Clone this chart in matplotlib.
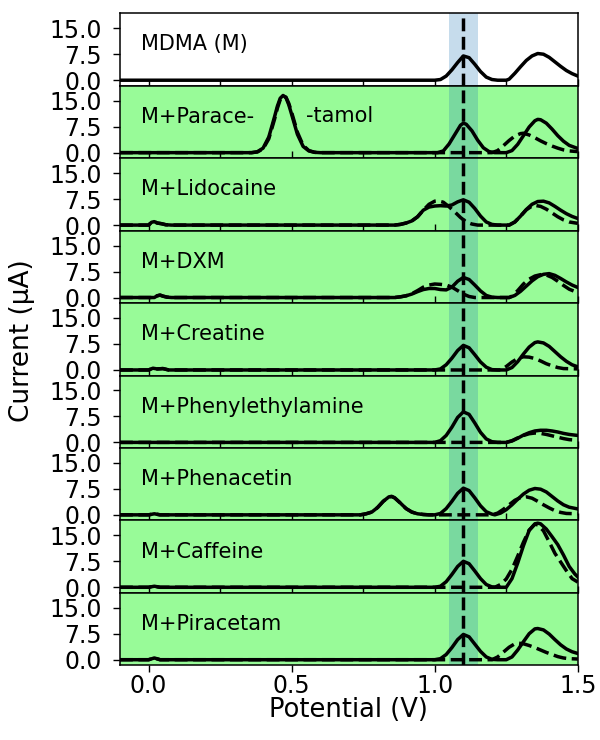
import numpy as np
import matplotlib
matplotlib.use("Agg")
import matplotlib.pyplot as plt

# ---------------- data (potential V, current uA) ----------------
panel_labels = ["MDMA (M)", "M+Parace-", "M+Lidocaine", "M+DXM", "M+Creatine",
                "M+Phenylethylamine", "M+Phenacetin", "M+Caffeine", "M+Piracetam"]

mdma_solid = [(-0.1, 0), (1.00, 0), (1.02, 0.2), (1.04, 1.2), (1.06, 3.0), (1.08, 5.1), (1.10, 7.0),
              (1.12, 6.5), (1.14, 4.6), (1.16, 2.5), (1.18, 0.9), (1.20, 0.2), (1.22, 0), (1.25, 0),
              (1.26, 0.3), (1.28, 2.0), (1.30, 3.9), (1.32, 5.7), (1.34, 7.0), (1.36, 7.7), (1.38, 7.5),
              (1.40, 6.6), (1.42, 5.3), (1.44, 4.0), (1.46, 2.8), (1.48, 1.9), (1.50, 1.2)]

paracetamol_solid = [(-0.1, 0), (0.36, 0), (0.38, 0.25), (0.40, 1.3), (0.42, 4.5), (0.44, 10.3),
                     (0.45, 13.4), (0.46, 15.7), (0.47, 16.5), (0.48, 15.9), (0.49, 13.8), (0.50, 11.0),
                     (0.52, 5.3), (0.54, 1.8), (0.56, 0.5), (0.58, 0.1), (0.60, 0), (1.01, 0), (1.03, 0.5),
                     (1.05, 2.5), (1.07, 5.2), (1.09, 7.9), (1.10, 8.5), (1.11, 8.2), (1.13, 6.3), (1.15, 3.6),
                     (1.17, 1.4), (1.19, 0.3), (1.21, 0), (1.25, 0), (1.27, 0.6), (1.29, 2.4), (1.31, 4.9),
                     (1.33, 7.4), (1.35, 9.2), (1.36, 9.6), (1.37, 9.5), (1.39, 8.5), (1.41, 6.8), (1.43, 4.9),
                     (1.45, 3.3), (1.47, 2.1), (1.50, 1.2)]
paracetamol_dashed = [(-0.1, 0), (0.36, 0), (0.38, 0.2), (0.40, 1.1), (0.42, 4.0), (0.44, 9.6),
                      (0.45, 12.8), (0.46, 15.3), (0.47, 16.3), (0.48, 16.0), (0.49, 14.2), (0.50, 11.6),
                      (0.52, 5.9), (0.54, 2.1), (0.56, 0.6), (0.58, 0.1), (0.60, 0), (1.20, 0), (1.22, 0.6),
                      (1.24, 2.0), (1.26, 3.5), (1.28, 4.8), (1.30, 5.5), (1.31, 5.6), (1.33, 5.1), (1.35, 4.3),
                      (1.37, 3.4), (1.39, 2.6), (1.41, 1.9), (1.43, 1.3), (1.45, 0.8), (1.47, 0.5), (1.50, 0.3)]

lidocaine_solid = [(-0.1, 0), (0.0, 0), (0.01, 0.8), (0.02, 1.0), (0.03, 0.6), (0.045, 0.4), (0.06, 0.1),
                   (0.08, 0), (0.86, 0), (0.88, 0.2), (0.90, 0.6), (0.92, 1.2), (0.94, 2.4), (0.96, 4.3),
                   (0.98, 5.2), (1.00, 5.5), (1.02, 5.6), (1.04, 5.5), (1.06, 5.8), (1.08, 6.7), (1.10, 7.3),
                   (1.12, 6.6), (1.14, 4.8), (1.16, 2.6), (1.18, 0.9), (1.20, 0.2), (1.22, 0), (1.26, 0),
                   (1.28, 0.9), (1.30, 2.6), (1.32, 4.5), (1.34, 6.0), (1.36, 6.8), (1.38, 6.9), (1.40, 6.4),
                   (1.42, 5.4), (1.44, 4.3), (1.46, 3.3), (1.48, 2.5), (1.50, 1.9)]
lidocaine_dashed = [(-0.1, 0), (0.0, 0), (0.01, 0.8), (0.02, 1.0), (0.03, 0.6), (0.045, 0.4), (0.06, 0.1),
                    (0.08, 0), (0.86, 0), (0.88, 0.2), (0.90, 0.6), (0.92, 1.2), (0.94, 2.4), (0.96, 4.3),
                    (0.98, 6.0), (1.00, 6.9), (1.01, 7.0), (1.03, 6.6), (1.05, 5.3), (1.07, 3.8), (1.09, 2.2),
                    (1.11, 0.9), (1.13, 0.3), (1.15, 0), (1.26, 0), (1.28, 0.9), (1.30, 2.6), (1.32, 4.4),
                    (1.34, 5.5), (1.35, 5.7), (1.37, 5.4), (1.39, 4.6), (1.41, 3.5), (1.43, 2.4), (1.45, 1.5),
                    (1.47, 0.9), (1.50, 0.5)]

dxm_solid = [(-0.1, 0), (0.02, 0), (0.03, 0.5), (0.04, 0.7), (0.05, 0.4), (0.065, 0.1), (0.08, 0),
             (0.86, 0), (0.88, 0.2), (0.90, 0.5), (0.92, 1.0), (0.94, 1.7), (0.96, 2.3), (0.98, 2.6),
             (1.00, 2.6), (1.02, 2.3), (1.04, 2.2), (1.06, 3.0), (1.08, 4.7), (1.10, 5.8), (1.12, 5.2),
             (1.14, 3.6), (1.16, 1.9), (1.18, 0.6), (1.20, 0.1), (1.22, 0), (1.26, 0), (1.28, 0.6),
             (1.30, 1.8), (1.32, 3.3), (1.34, 4.8), (1.36, 6.0), (1.38, 6.7), (1.40, 6.9), (1.42, 6.4),
             (1.44, 5.5), (1.46, 4.5), (1.48, 3.6), (1.50, 2.9)]
dxm_dashed = [(-0.1, 0), (0.02, 0), (0.03, 0.5), (0.04, 0.7), (0.05, 0.4), (0.065, 0.1), (0.08, 0),
              (0.86, 0), (0.88, 0.2), (0.90, 0.5), (0.92, 1.1), (0.94, 2.0), (0.96, 3.0), (0.98, 3.6),
              (1.00, 3.9), (1.02, 3.8), (1.04, 3.6), (1.06, 3.0), (1.08, 2.0), (1.10, 1.0), (1.12, 0.3),
              (1.14, 0), (1.26, 0), (1.27, 0.4), (1.29, 2.0), (1.31, 3.9), (1.33, 5.3), (1.35, 6.2),
              (1.37, 6.6), (1.39, 6.5), (1.41, 5.8), (1.43, 4.7), (1.45, 3.5), (1.47, 2.4), (1.50, 1.4)]

creatine_solid = [(-0.1, 0), (0.0, 0), (0.015, 0.5), (0.03, 0.3), (0.05, 0.4), (0.07, 0), (1.00, 0),
                  (1.02, 0.3), (1.04, 1.5), (1.06, 3.4), (1.08, 5.6), (1.10, 7.1), (1.12, 6.4), (1.14, 4.4),
                  (1.16, 2.3), (1.18, 0.8), (1.20, 0.1), (1.22, 0), (1.25, 0), (1.27, 0.7), (1.29, 2.4),
                  (1.31, 4.6), (1.33, 6.6), (1.35, 7.9), (1.36, 8.1), (1.38, 7.8), (1.40, 6.8), (1.42, 5.3),
                  (1.44, 3.8), (1.46, 2.5), (1.48, 1.5), (1.50, 0.9)]
creatine_dashed = [(-0.1, 0), (0.0, 0), (0.015, 0.5), (0.03, 0.3), (0.05, 0.4), (0.07, 0), (1.23, 0),
                   (1.25, 1.0), (1.27, 2.3), (1.29, 3.3), (1.31, 3.8), (1.33, 3.7), (1.35, 3.3), (1.37, 2.6),
                   (1.39, 1.8), (1.41, 1.2), (1.43, 0.7), (1.45, 0.4), (1.50, 0.3)]

phenylethylamine_solid = [(-0.1, 0), (1.00, 0), (1.02, 0.5), (1.04, 2.0), (1.06, 4.4), (1.08, 7.2),
                          (1.10, 8.8), (1.12, 8.1), (1.14, 5.6), (1.16, 2.9), (1.18, 1.0), (1.20, 0.2),
                          (1.22, 0), (1.25, 0), (1.27, 0.4), (1.29, 1.2), (1.31, 2.1), (1.33, 2.8), (1.35, 3.3),
                          (1.37, 3.5), (1.39, 3.5), (1.41, 3.3), (1.43, 3.0), (1.45, 2.6), (1.47, 2.3), (1.50, 2.0)]
phenylethylamine_dashed = [(-0.1, 0), (1.25, 0), (1.27, 0.5), (1.29, 1.3), (1.31, 2.0), (1.33, 2.5),
                           (1.35, 2.7), (1.37, 2.6), (1.39, 2.3), (1.41, 1.9), (1.43, 1.5), (1.45, 1.1),
                           (1.47, 0.8), (1.50, 0.6)]

phenacetin_solid = [(-0.1, 0), (0.0, 0), (0.02, 0.3), (0.04, 0), (0.74, 0), (0.76, 0.3), (0.78, 0.8),
                    (0.80, 2.1), (0.82, 3.9), (0.84, 5.2), (0.85, 5.3), (0.86, 4.9), (0.88, 3.4), (0.90, 1.8),
                    (0.92, 0.8), (0.94, 0.3), (0.96, 0.1), (0.98, 0), (1.00, 0), (1.02, 0.4), (1.04, 1.8),
                    (1.06, 3.9), (1.08, 6.2), (1.10, 7.7), (1.12, 7.0), (1.14, 4.9), (1.16, 2.6), (1.18, 0.9),
                    (1.20, 0.2), (1.21, 0), (1.23, 0.5), (1.25, 1.5), (1.27, 2.9), (1.29, 4.5), (1.31, 6.0),
                    (1.33, 7.1), (1.35, 7.6), (1.37, 7.4), (1.39, 6.6), (1.41, 5.3), (1.43, 4.0), (1.45, 2.9),
                    (1.47, 2.2), (1.50, 1.7)]
phenacetin_dashed = [(-0.1, 0), (0.0, 0), (0.02, 0.3), (0.04, 0), (0.74, 0), (0.76, 0.3), (0.78, 0.8),
                     (0.80, 2.1), (0.82, 3.9), (0.84, 5.2), (0.85, 5.3), (0.86, 4.9), (0.88, 3.4), (0.90, 1.8),
                     (0.92, 0.8), (0.94, 0.3), (0.96, 0.1), (0.98, 0), (1.20, 0), (1.22, 0.5), (1.24, 1.6),
                     (1.26, 2.9), (1.28, 4.2), (1.30, 5.0), (1.32, 5.2), (1.34, 4.8), (1.36, 3.9), (1.38, 2.9),
                     (1.40, 2.0), (1.42, 1.2), (1.44, 0.7), (1.46, 0.4), (1.50, 0.3)]

caffeine_solid = [(-0.1, 0), (0.0, 0), (0.02, 0.3), (0.04, 0), (1.00, 0), (1.02, 0.3), (1.04, 1.6),
                  (1.06, 3.7), (1.08, 6.0), (1.10, 7.5), (1.12, 6.8), (1.14, 4.7), (1.16, 2.5), (1.18, 0.8),
                  (1.20, 0.1), (1.22, 0), (1.25, 0), (1.27, 2.5), (1.29, 7.0), (1.31, 12.0), (1.33, 16.4),
                  (1.35, 18.3), (1.36, 18.5), (1.37, 18.3), (1.39, 16.8), (1.41, 14.6), (1.43, 12.3),
                  (1.45, 9.3), (1.47, 6.0), (1.49, 3.8), (1.50, 3.0)]
caffeine_dashed = [(-0.1, 0), (0.0, 0), (0.02, 0.3), (0.04, 0), (1.21, 0), (1.23, 0.8), (1.25, 2.4),
                   (1.27, 5.2), (1.29, 9.0), (1.31, 13.0), (1.33, 16.5), (1.35, 18.2), (1.36, 18.0),
                   (1.38, 16.3), (1.40, 13.1), (1.42, 9.8), (1.44, 7.3), (1.46, 4.8), (1.48, 2.5), (1.50, 1.5)]

piracetam_solid = [(-0.1, 0), (0.0, 0), (0.02, 0.5), (0.04, 0), (1.00, 0), (1.02, 0.3), (1.04, 1.5),
                   (1.06, 3.5), (1.08, 5.8), (1.10, 7.3), (1.12, 6.6), (1.14, 4.5), (1.16, 2.4), (1.18, 0.8),
                   (1.20, 0.1), (1.22, 0), (1.25, 0), (1.27, 0.8), (1.29, 2.8), (1.31, 5.2), (1.33, 7.5),
                   (1.35, 8.9), (1.36, 9.0), (1.38, 8.6), (1.40, 7.4), (1.42, 5.8), (1.44, 4.3), (1.46, 3.1),
                   (1.48, 2.3), (1.50, 1.8)]
piracetam_dashed = [(-0.1, 0), (0.0, 0), (0.02, 0.5), (0.04, 0), (1.20, 0), (1.22, 0.8), (1.24, 2.2),
                    (1.26, 3.6), (1.28, 4.6), (1.29, 4.8), (1.31, 4.6), (1.33, 4.1), (1.35, 3.5), (1.37, 2.8),
                    (1.39, 2.1), (1.41, 1.5), (1.43, 0.9), (1.45, 0.5), (1.47, 0.3), (1.50, 0.2)]

solid_curves = [mdma_solid, paracetamol_solid, lidocaine_solid, dxm_solid, creatine_solid,
                phenylethylamine_solid, phenacetin_solid, caffeine_solid, piracetam_solid]
dashed_curves = [None, paracetamol_dashed, lidocaine_dashed, dxm_dashed, creatine_dashed,
                 phenylethylamine_dashed, phenacetin_dashed, caffeine_dashed, piracetam_dashed]

mdma_peak = 1.1
window = (1.05, 1.15)
yticks = [0.0, 7.5, 15.0]
xticks_bottom = [0.0, 0.5, 1.0, 1.5]
xticks_inner = [0.0, 0.25, 0.5, 0.75, 1.0, 1.25, 1.5]

# ---------------- figure ----------------
fig, axes = plt.subplots(9, 1, figsize=(6.0, 7.4), dpi=100)
fig.subplots_adjust(left=0.2, right=0.963, top=0.982, bottom=0.101, hspace=0)

LW = 2.5
for k, ax in enumerate(axes):
    if k > 0:
        ax.set_facecolor("palegreen")
    ax.axvspan(window[0], window[1], color="tab:blue", alpha=0.25, lw=0, zorder=1)
    v, i = zip(*solid_curves[k])
    ax.plot(v, i, color="black", lw=LW, zorder=3)
    if dashed_curves[k] is not None:
        v, i = zip(*dashed_curves[k])
        ax.plot(v, i, color="black", lw=LW, ls="--", zorder=3)
    ax.axvline(mdma_peak, color="black", lw=LW, ls="--", zorder=4)
    ax.set_xlim(-0.1, 1.5)
    ax.set_ylim(-1.6, 19.3)
    ax.set_yticks(yticks)
    ax.set_yticklabels([f"{t:.1f}" for t in yticks])
    ax.tick_params(axis="y", labelsize=17, length=5, width=1, pad=8)
    for s in ax.spines.values():
        s.set_linewidth(1.1)
    ax.text(0.045, 0.57, panel_labels[k], transform=ax.transAxes, fontsize=15,
            va="center", ha="left", zorder=5)
    if k == 1:
        ax.text(0.55, 10.7, "-tamol", fontsize=15, va="center", ha="left", zorder=5)
    if k < 8:
        ax.set_xticks(xticks_inner)
        ax.set_xticklabels([])
        ax.tick_params(axis="x", direction="in", length=5, width=1)
    else:
        ax.set_xticks(xticks_bottom)
        ax.set_xticklabels([f"{t:.1f}" for t in xticks_bottom])
        ax.tick_params(axis="x", labelsize=17, length=5, width=1, pad=1.5)
        ax.set_xlabel("Potential (V)", fontsize=18.5, labelpad=-1)

fig.text(0.037, 0.54, "Current (μA)", rotation=90, fontsize=19, va="center", ha="center")

fig.savefig("out.png", dpi=100)
